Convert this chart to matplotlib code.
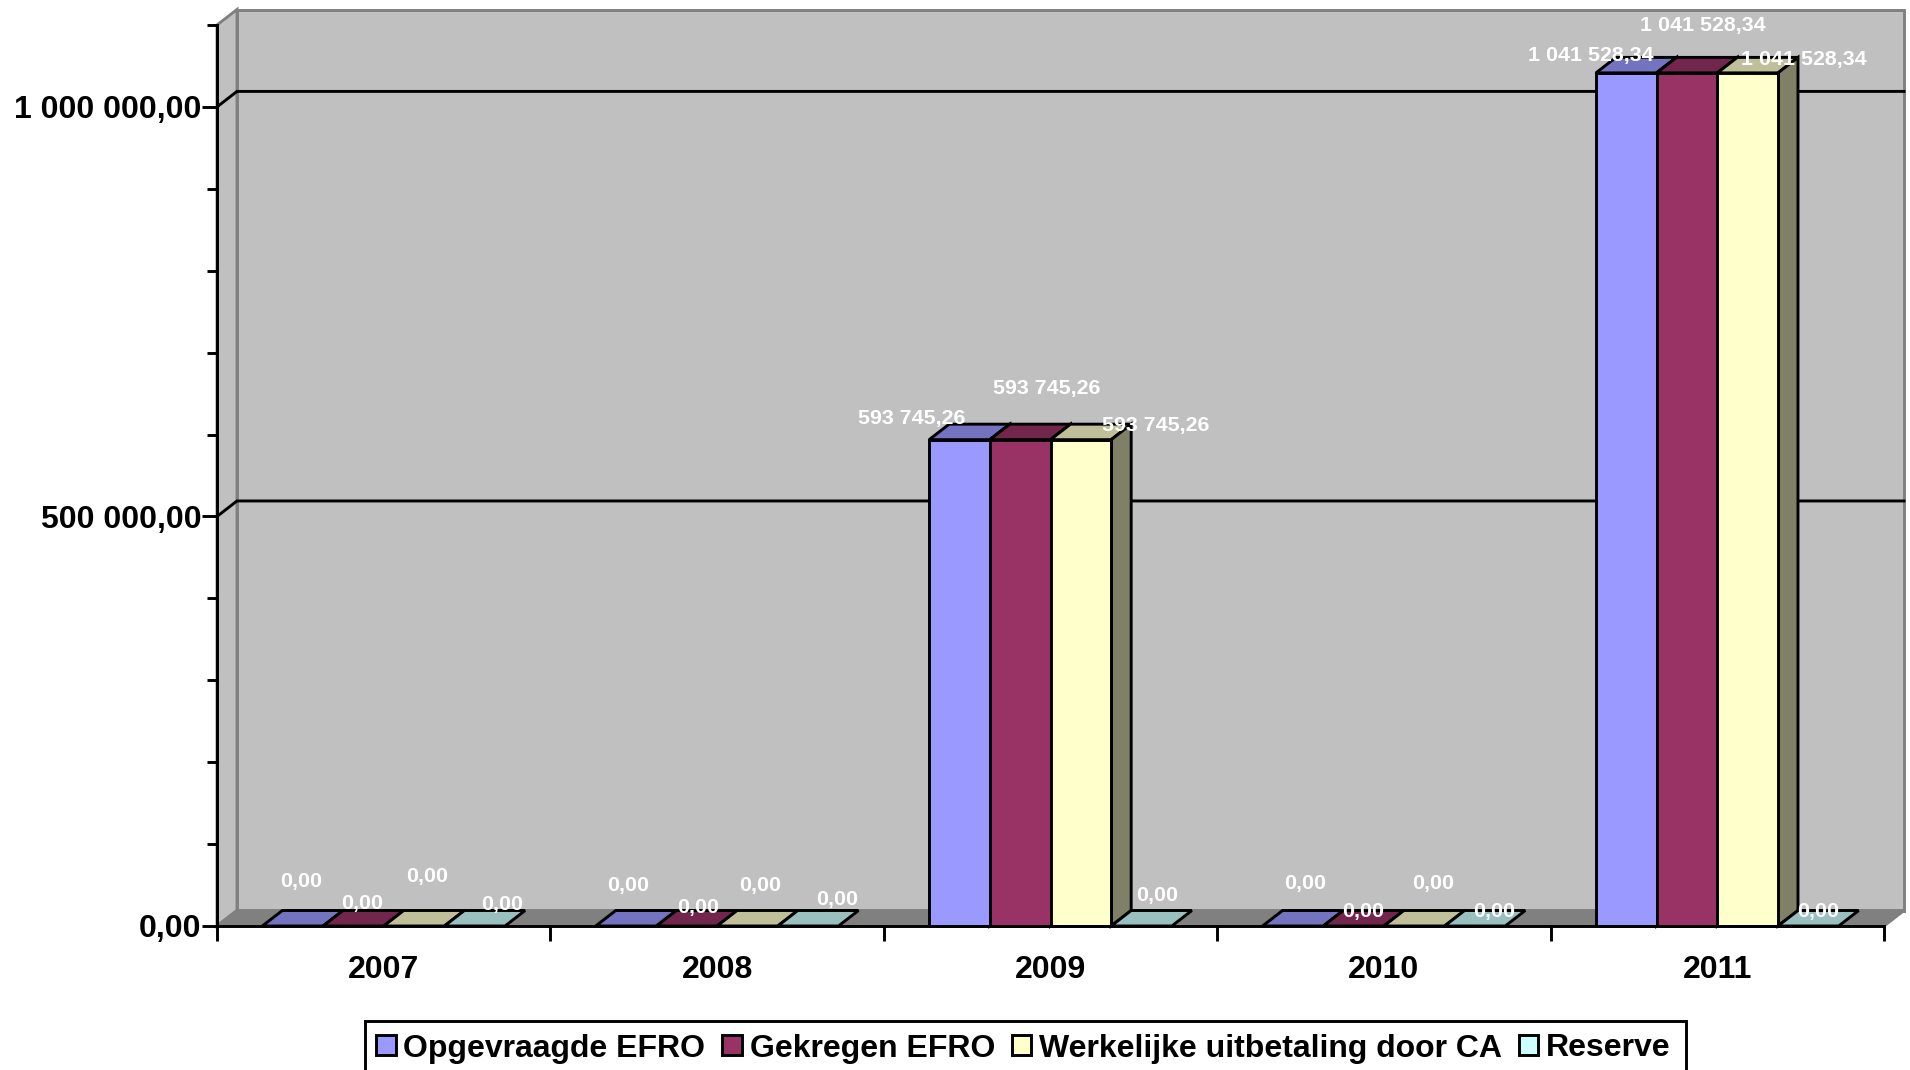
import matplotlib
matplotlib.use("Agg")
import matplotlib.pyplot as plt
from matplotlib.patches import Polygon, Patch, Rectangle
from matplotlib.ticker import FuncFormatter, MultipleLocator

plt.rcParams["font.family"] = ["Liberation Sans", "DejaVu Sans"]

# --- data ---------------------------------------------------------------
years = ["2007", "2008", "2009", "2010", "2011"]
series_names = ["Opgevraagde EFRO", "Gekregen EFRO", "Werkelijke uitbetaling door CA", "Reserve"]
opgevraagd = [0.0, 0.0, 593745.26, 0.0, 1041528.34]
gekregen = [0.0, 0.0, 593745.26, 0.0, 1041528.34]
werkelijk = [0.0, 0.0, 593745.26, 0.0, 1041528.34]
reserve = [0.0, 0.0, 0.0, 0.0, 0.0]
all_series = [opgevraagd, gekregen, werkelijk, reserve]

# --- style --------------------------------------------------------------
front_cols = ["#9999FF", "#993366", "#FFFFCC", "#CCFFFF"]
top_cols = ["#7373BF", "#73264C", "#BFBF99", "#99BFBF"]
side_col = "#808066"
WALL = "#C0C0C0"
FLOOR = "#808080"
LW = 2.1

# hand placed value labels, offset in pixels from the top centre of the bar
label_offsets = [
    [(8, 45), (9, 23), (13.5, 49.5), (27, 21.5)],
    [(2, 41), (11, 19), (13, 41), (29, 26)],
    [(-48, 21.5), (27, 51.5), (74.5, 14), (15.5, 30)],
    [(12, 42), (10, 14), (19, 42), (19, 14)],
    [(-35, 17), (15.5, 47), (56, 13), (10, 14)],
]

W, H = 1910, 1070
fig = plt.figure(figsize=(W / 100, H / 100), dpi=100, facecolor="white")
ax = fig.add_axes([217 / W, (H - 926) / H, 1667 / W, 901 / H])
ax.patch.set_visible(False)

Y_TOP = 1100000
ax.set_xlim(0, len(years))
ax.set_ylim(0, Y_TOP)

# 3D depth, expressed in data units
DX = 20 / (1667 / len(years))
DY = 15.5 / (901 / Y_TOP)
BAR_W = 0.182
n_x = len(years)


def poly(points, fc, ec, z, lw=LW):
    ax.add_patch(Polygon(points, closed=True, facecolor=fc, edgecolor=ec,
                         linewidth=lw, zorder=z, clip_on=False, joinstyle="miter"))


# walls and floor
poly([(DX, DY), (n_x + DX, DY), (n_x + DX, Y_TOP + DY), (DX, Y_TOP + DY)], WALL, FLOOR, 1)
poly([(0, 0), (DX, DY), (DX, Y_TOP + DY), (0, Y_TOP)], WALL, FLOOR, 1)
poly([(0, 0), (n_x, 0), (n_x + DX, DY), (DX, DY)], FLOOR, FLOOR, 1)

# gridlines run over the side wall and the back wall
for v in [500000, 1000000]:
    ax.plot([0, DX, n_x + DX], [v, v + DY, v + DY], color="black", lw=LW,
            zorder=1.5, clip_on=False, solid_joinstyle="miter")

# bars
z = 3
for g in range(n_x):
    start = g + 0.5 - 2 * BAR_W
    for s, values in enumerate(all_series):
        x0 = start + s * BAR_W
        x1 = x0 + BAR_W
        v = values[g]
        poly([(x0, v), (x1, v), (x1 + DX, v + DY), (x0 + DX, v + DY)], top_cols[s], "black", z)
        if v > 0:
            poly([(x1, 0), (x1 + DX, DY), (x1 + DX, v + DY), (x1, v)], side_col, "black", z)
            poly([(x0, 0), (x1, 0), (x1, v), (x0, v)], front_cols[s], "black", z)
        z += 0.01

# value labels
for g in range(n_x):
    start = g + 0.5 - 2 * BAR_W
    for s, values in enumerate(all_series):
        txt = f"{values[g]:,.2f}".replace(",", " ").replace(".", ",")
        ax.annotate(txt, (start + (s + 0.5) * BAR_W, values[g]),
                    xytext=label_offsets[g][s], textcoords="offset pixels",
                    ha="center", va="center", color="white", fontsize=15.4,
                    fontweight="bold", annotation_clip=False, zorder=10)

# axes
for side in ["top", "right"]:
    ax.spines[side].set_visible(False)
for side in ["left", "bottom"]:
    ax.spines[side].set_linewidth(LW)
    ax.spines[side].set_zorder(4)

ax.yaxis.set_major_locator(MultipleLocator(500000))
ax.yaxis.set_minor_locator(MultipleLocator(100000))
ax.yaxis.set_major_formatter(FuncFormatter(lambda v, _: f"{v:,.2f}".replace(",", " ").replace(".", ",")))
ax.tick_params(axis="y", which="major", length=10.8, width=LW, pad=0.5, labelsize=23)
ax.tick_params(axis="y", which="minor", length=7.2, width=LW)
for lab in ax.get_yticklabels():
    lab.set_fontweight("bold")

ax.set_xticks(range(n_x + 1))
ax.set_xticklabels([])
ax.set_xticks([g + 0.5 for g in range(n_x)], minor=True)
ax.set_xticklabels(years, minor=True, fontweight="bold", fontsize=23)
ax.tick_params(axis="x", which="major", length=10.8, width=LW)
ax.tick_params(axis="x", which="minor", length=0, pad=21)

# legend box, its lower edge falls off the picture like in the original
fig.add_artist(Rectangle((365 / W, -30 / H), 1321 / W, (H - 1021 + 30) / H, transform=fig.transFigure,
                         facecolor="white", edgecolor="black", linewidth=LW))
handles = [Patch(facecolor=c, edgecolor="black", linewidth=LW) for c in front_cols]
leg = fig.legend(handles, series_names, ncol=4, loc="upper left",
                 bbox_to_anchor=(376 / W, (H - 1033.5) / H), bbox_transform=fig.transFigure,
                 prop={"size": 23, "weight": "bold"}, frameon=False, borderpad=0,
                 borderaxespad=0, handlelength=0.62, handleheight=0.6, handletextpad=0.24,
                 columnspacing=0.52)

fig.savefig("out.png", dpi=100)
